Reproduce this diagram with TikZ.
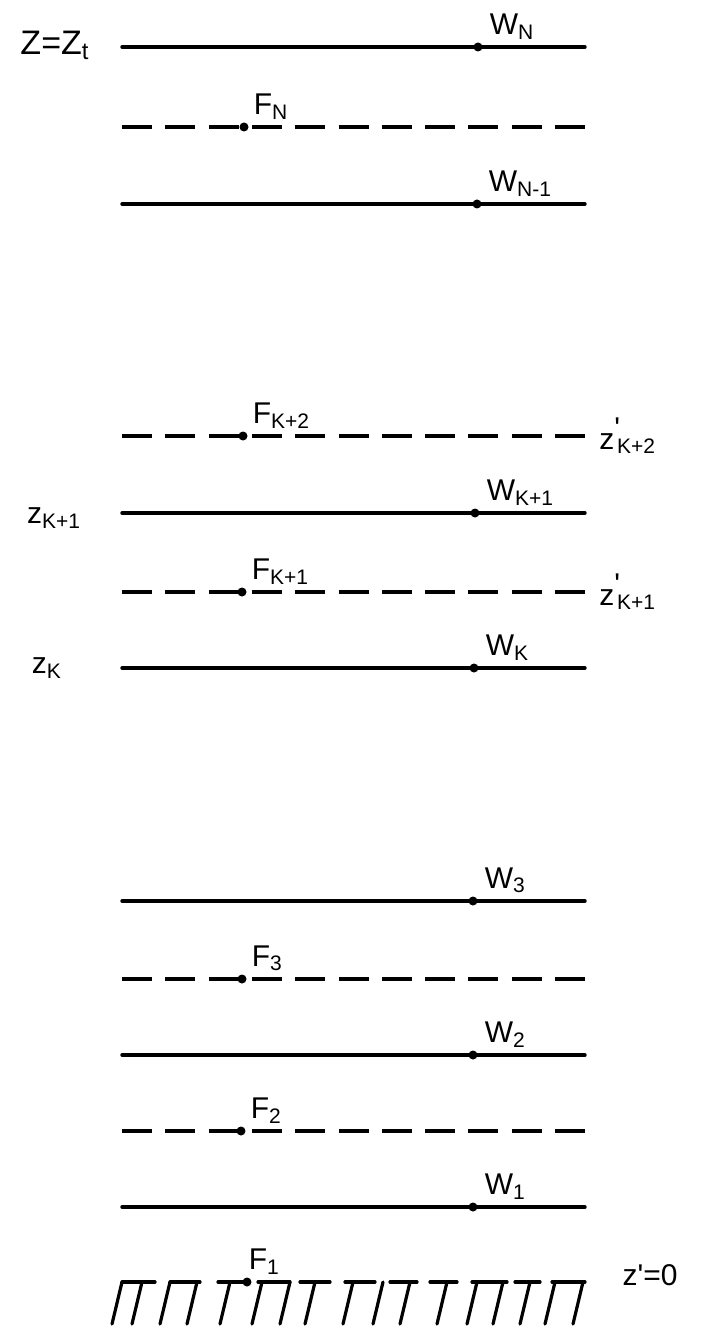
\documentclass[tikz,border=0pt]{standalone}
\usepackage{fontspec}
\setmainfont{Liberation Sans}
\usetikzlibrary{positioning}
\tikzset{
    wline/.style={line width=1.7pt, line cap=round},
    fline/.style={line width=1.7pt, dash pattern=on 15pt off 6.65pt},
    hatch/.style={line width=1.6pt, line cap=round},
    knot/.style={circle, fill, inner sep=0pt, minimum size=4.5pt},
    lbl/.style={font=\fontsize{15}{17}\selectfont, inner sep=1pt},
    biglbl/.style={font=\fontsize{17}{19}\selectfont, inner sep=1pt},
}
\newcommand{\zprime}[1]{z\raisebox{0.35em}{\textquotesingle}\kern-0.1em\textsubscript{#1}}

\begin{document}
\begin{tikzpicture}[x=0.5pt, y=-0.5pt]
    \useasboundingbox (0,0) rectangle (702,1336);
    % solid layers W
    \foreach \n/\y/\d/\t in {wN/47/478/N, wNa/204/477/N-1, wKa/513/475/K+1,
                             wK/668/474/K, wc/901/473/3, wb/1055/473/2, wa/1207/473/1} {
        \draw[wline] (122,\y) coordinate (\n l) -- (585,\y) coordinate (\n r);
        \node[knot] (\n) at (\d,\y) {};
        \node[lbl, above right=1pt and 3pt of \n] (\n t) {W\textsubscript{\t}};
    }
    % dashed layers F
    \foreach \n/\y/\d/\t in {fN/127/244/N, fKb/436/243/K+2, fKa/592/242/K+1,
                             fc/979/242/3, fb/1131/241/2} {
        \draw[fline] (122,\y) coordinate (\n l) -- (585,\y) coordinate (\n r);
        \node[knot] (\n) at (\d,\y) {};
        \node[lbl, above right=1pt and 2pt of \n] (\n t) {F\textsubscript{\t}};
    }
    % ground
    \foreach \a/\b in {122/155, 170/200, 218/245, 258/290, 300/330, 345/375,
                       390/417, 430/457, 472/507, 515/540, 552/585}
        \draw[hatch] (\a,1282) -- (\b,1282);
    \foreach \x in {122, 142, 170, 197, 230, 262, 290, 315, 353, 383, 410,
                    447, 477, 503, 530, 555, 583}
        \draw[hatch] (\x,1282) -- ({\x-10},1324);
    \node[knot] (fa) at (247,1282) {};
    \node[lbl, above right=1pt and -2pt of fa] (fat) {F\textsubscript{1}};
    % heights
    \node[biglbl] (zt) at (55,45) {Z=Z\textsubscript{t}};
    \node[lbl] (zKa) at (54,518) {z\textsubscript{K+1}};
    \node[lbl] (zK) at (47,668) {z\textsubscript{K}};
    \node[lbl, right=6pt of fKbr] (zpKb) {\zprime{K+2}};
    \node[lbl, right=6pt of fKar] (zpKa) {\zprime{K+1}};
    \node[lbl] (zp0) at (650,1275) {z\textquotesingle=0};
\end{tikzpicture}
\end{document}
